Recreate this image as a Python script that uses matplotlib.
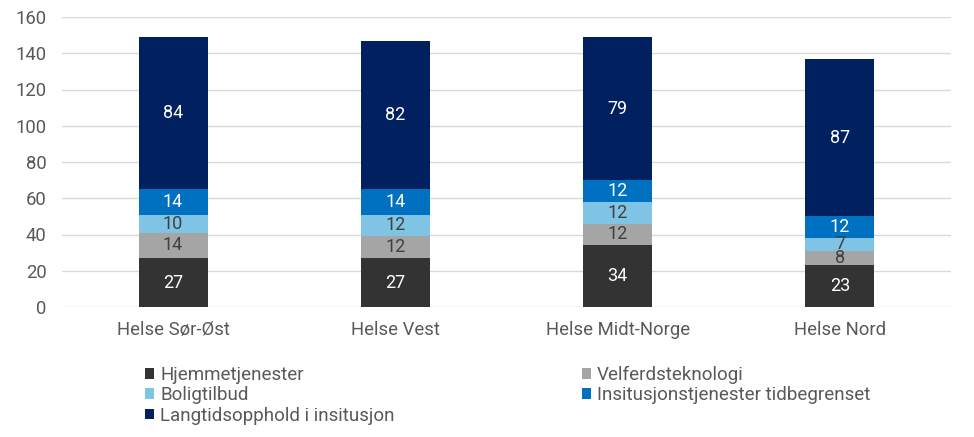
import matplotlib
matplotlib.use("Agg")
import matplotlib.pyplot as plt
import numpy as np

plt.rcParams['font.family'] = ['Roboto', 'DejaVu Sans']

categories = ["Helse Sør-Øst", "Helse Vest", "Helse Midt-Norge", "Helse Nord"]
series_names = ["Hjemmetjenester", "Velferdsteknologi", "Boligtilbud",
                "Insitusjonstjenester tidbegrenset", "Langtidsopphold i insitusjon"]
hjemme = [27, 27, 34, 23]
velferd = [14, 12, 12, 8]
bolig = [10, 12, 12, 7]
insitusjon = [14, 14, 12, 12]
langtid = [84, 82, 79, 87]
yticks = [0, 20, 40, 60, 80, 100, 120, 140, 160]

colors = ["#333333", "#a5a5a5", "#7fc4e4", "#0070c0", "#002060"]
label_colors = ["white", "#404040", "#404040", "white", "white"]

fig = plt.figure(figsize=(9.74, 4.37), dpi=100)
ax = fig.add_axes([62/974, 1-307/437, 889/974, 290/437])

x = np.arange(len(categories))
bottom = np.zeros(len(categories))
handles = []
for vals, name, c, lc in zip([hjemme, velferd, bolig, insitusjon, langtid],
                             series_names, colors, label_colors):
    vals = np.array(vals, dtype=float)
    b = ax.bar(x, vals, width=0.31, bottom=bottom, color=c, label=name, zorder=3)
    handles.append(b)
    for xi, v, bt in zip(x, vals, bottom):
        ax.text(xi, bt + v/2, f"{int(v)}", ha="center", va="center",
                color=lc, fontsize=13, zorder=4)
    bottom += vals

ax.set_xlim(-0.5, 3.5)
ax.set_ylim(0, 160)
ax.set_yticks(yticks)
ax.set_xticks(x)
ax.set_xticklabels(categories)
ax.tick_params(axis="both", length=0, labelsize=13.3, colors="#595959")
ax.tick_params(axis="y", pad=11)
ax.tick_params(axis="x", pad=10)
ax.yaxis.grid(True, color="#d9d9d9", linewidth=1, zorder=0)
for s in ax.spines.values():
    s.set_visible(False)

order = [0, 2, 4, 1, 3]
leg = fig.legend([handles[i] for i in order], [series_names[i] for i in order],
                 ncol=2, loc="upper left", bbox_to_anchor=(145/974, 1-366/437),
                 frameon=False, fontsize=13.5, handlelength=0.5, handleheight=0.5,
                 handletextpad=0.3, columnspacing=10.0, borderpad=0, borderaxespad=0,
                 labelspacing=0.12, labelcolor="#595959")

fig.savefig("out.png", dpi=100)
